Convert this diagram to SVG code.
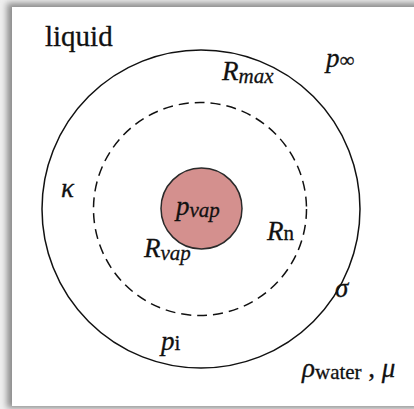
<svg xmlns="http://www.w3.org/2000/svg" width="414" height="409" viewBox="0 0 414 409">
<defs>
<filter id="sh" x="-10%" y="-10%" width="120%" height="120%"><feGaussianBlur stdDeviation="3"/></filter>
<style>
.i{font-style:italic;}
.ring{fill:none;stroke:#111;stroke-width:1.5;}
</style>
</defs>
<rect x="0" y="0" width="414" height="409" fill="#efefef"/>
<rect x="7" y="3" width="414" height="405" fill="#8c8c8c" filter="url(#sh)"/>
<rect x="12" y="7" width="402" height="399" fill="#ffffff"/>
<g id="outer"><circle class="ring" cx="201" cy="209" r="159"/></g>
<g id="nucleus"><circle class="ring" cx="200" cy="209" r="106.5" stroke-dasharray="10,6"/></g>
<g id="vapor"><circle cx="201.5" cy="208.5" r="40.5" fill="#d4908e" stroke="#2a2a2a" stroke-width="1.5"/></g>
<g id="labels" font-family="Liberation Serif, serif" fill="#111" stroke="#111" stroke-width="0.3">
<text x="45" y="46" font-size="29">liquid</text>
<text class="i" x="222" y="80" font-size="27">R<tspan font-size="21" dy="3">max</tspan></text>
<text class="i" x="326" y="67" font-size="27">p<tspan font-style="normal" font-size="21">∞</tspan></text>
<text class="i" x="61" y="197" font-size="27">κ</text>
<text class="i" x="176" y="215" font-size="27">p<tspan font-size="21" dy="2">vap</tspan></text>
<text class="i" x="267" y="240" font-size="27">R<tspan font-style="normal" font-size="21">n</tspan></text>
<text class="i" x="144" y="257" font-size="27">R<tspan font-size="21" dy="3">vap</tspan></text>
<text class="i" x="335" y="297" font-size="27">σ</text>
<text class="i" x="161" y="350" font-size="27">p<tspan font-style="normal" font-size="21">i</tspan></text>
<text class="i" x="302" y="377" font-size="27">ρ<tspan font-style="normal" font-size="21" dy="2">water</tspan><tspan font-style="normal" dy="-2"> , </tspan>μ</text>
</g>
</svg>
